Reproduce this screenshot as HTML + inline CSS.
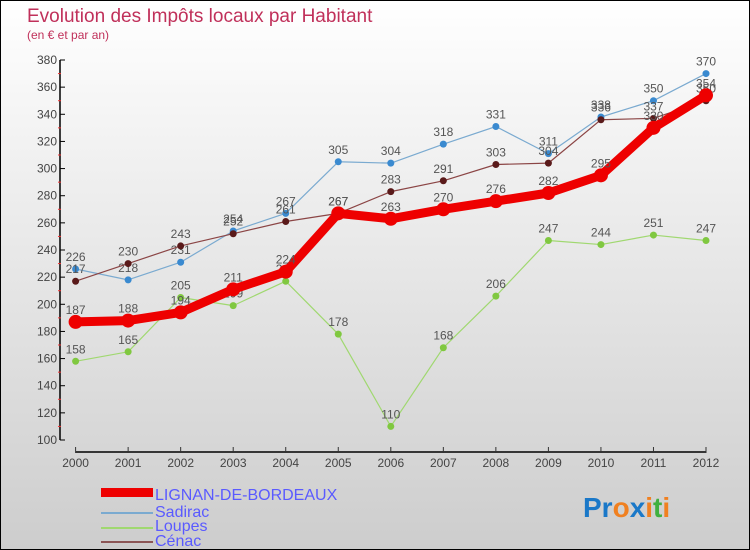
<!DOCTYPE html>
<html><head><meta charset="utf-8"><style>
body{margin:0}
#c{width:748px;height:548px;border:1px solid #000;background:linear-gradient(#ffffff,#e6e6e6 50%,#cdcdcd);position:relative;font-family:"Liberation Sans",sans-serif;overflow:hidden}
</style></head><body>
<div id="c">
<svg id="s" width="748" height="548">
<text x="26" y="21" font-size="19" fill="#c0305a">Evolution des Impôts locaux par Habitant</text>
<text x="26" y="38" font-size="12" fill="#c0305a">(en € et par an)</text>
<g id="axes"></g><g id="series"></g>
<g>
<rect x="100" y="487" width="52" height="9" fill="#e00"/>
<text x="154" y="499" font-size="16" fill="#5a5aff">LIGNAN-DE-BORDEAUX</text>
<line x1="100" y1="512" x2="152" y2="512" stroke="#7aaad0" stroke-width="2"/>
<text x="154" y="516" font-size="16" fill="#5a5aff">Sadirac</text>
<line x1="100" y1="527" x2="152" y2="527" stroke="#a0d870" stroke-width="2"/>
<text x="154" y="530" font-size="16" fill="#5a5aff">Loupes</text>
<line x1="100" y1="541" x2="152" y2="541" stroke="#8b5555" stroke-width="2"/>
<text x="154" y="545" font-size="16" fill="#5a5aff">Cénac</text>
</g>
<text x="582" y="516" font-size="28" font-weight="bold"><tspan fill="#1a78c8">Pr</tspan><tspan fill="#f08020">o</tspan><tspan fill="#1a78c8">x</tspan><tspan fill="#f08020">i</tspan><tspan fill="#40b040">t</tspan><tspan fill="#f08020">i</tspan></text>
</svg></div>
<script>
const years=[2000,2001,2002,2003,2004,2005,2006,2007,2008,2009,2010,2011,2012];
const yTicks=[100,120,140,160,180,200,220,240,260,280,300,320,340,360,380];
const lignan=[187,188,194,211,224,267,263,270,276,282,295,330,354];
const sadirac=[226,218,231,254,267,305,304,318,331,311,338,350,370];
const loupes=[158,165,205,199,217,178,110,168,206,247,244,251,247];
const cenac=[217,230,243,252,261,267,283,291,303,304,336,337,350];
const NS="http://www.w3.org/2000/svg";
const X=i=>74.6+i*(705-74.6)/12;
const Y=v=>439-(v-100)*(380/280);
function mk(t,a,p){const e=document.createElementNS(NS,t);for(const k in a)e.setAttribute(k,a[k]);p.appendChild(e);return e;}
const ax=document.getElementById('axes');
let l=mk('line',{x1:59,y1:Y(380),x2:59,y2:Y(100),stroke:'#000','stroke-width':1.5},ax);


yTicks.forEach((v,i)=>{
 mk('line',{x1:59,y1:Y(v),x2:64,y2:Y(v),stroke:'#000'},ax);
 if(i<yTicks.length-1)mk('line',{x1:57,y1:Y(v+10),x2:60,y2:Y(v+10),stroke:'#e33'},ax);
 const t=mk('text',{x:56,y:Y(v)+4,'font-size':12,'text-anchor':'end',fill:'#444'},ax);t.textContent=v;
 
 
});
l=mk('line',{x1:X(0),y1:451,x2:X(12),y2:451,stroke:'#000','stroke-width':1.5},ax);


years.forEach((y,i)=>{
 mk('line',{x1:X(i),y1:446,x2:X(i),y2:452,stroke:'#333'},ax);
 const t=mk('text',{x:X(i),y:466,'font-size':12,'text-anchor':'middle',fill:'#444'},ax);t.textContent=y;
 
 
});
const sg=document.getElementById('series');
function series(data,name,col,dot,w,r){
 const g=mk('g',{},sg);
 
 
 mk('polyline',{points:data.map((v,i)=>X(i)+','+Y(v)).join(' '),fill:'none',stroke:col,'stroke-width':w,'stroke-linejoin':'round'},g);
 data.forEach((v,i)=>{
  const c=mk('circle',{cx:X(i),cy:Y(v),r:r,fill:dot},g);
  
  
  const t=mk('text',{x:X(i),y:Y(v)-8,'font-size':12,'text-anchor':'middle',fill:'#555'},g);t.textContent=v;
  
  
 });
}
series(loupes,'loupes','#a0d870','#80c840',1.2,3.5);
series(sadirac,'sadirac','#7aaad0','#3a8ad0',1.2,3.5);
series(cenac,'cenac','#8b4545','#5a1a1a',1.2,3.5);
series(lignan,'lignan','#ee0000','#ee0000',9,7);
</script>
</body></html>
